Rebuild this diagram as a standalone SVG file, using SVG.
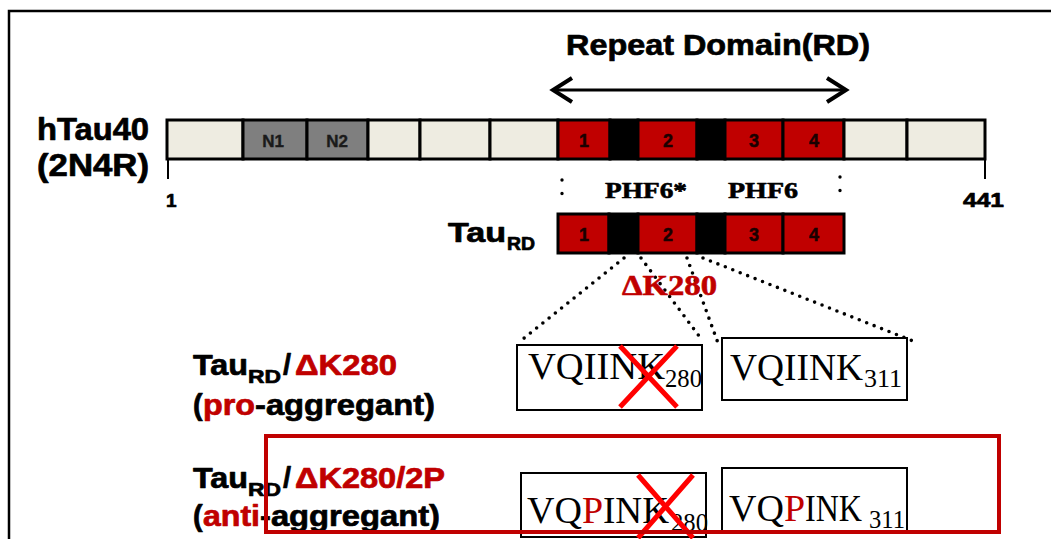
<svg xmlns="http://www.w3.org/2000/svg" width="1051" height="539" viewBox="0 0 1051 539">
<style>
.sans{font-family:"Liberation Sans",Arial,sans-serif;font-weight:bold;fill:#000;stroke:#000;stroke-width:0.7;stroke-linejoin:round}
.serif{font-family:"Liberation Serif","Times New Roman",serif}
.hv{stroke:#000;stroke-width:0.6;stroke-linejoin:round}
.cell{stroke:#000;stroke-width:3}
.beige{fill:#EEECE1}
.gray{fill:#7F7F7F}
.red{fill:#C00000}
.blk{fill:#000}
.num{font-family:"Liberation Sans",Arial,sans-serif;font-weight:bold;font-size:18px;fill:#1a0000;stroke:#1a0000;stroke-width:0.5;text-anchor:middle}
.ntxt{font-family:"Liberation Sans",Arial,sans-serif;font-weight:bold;font-size:17px;fill:#1a1a1a;stroke:#1a1a1a;stroke-width:0.4;text-anchor:middle}
.dot{fill:none;stroke:#000;stroke-width:3.6;stroke-linecap:round;stroke-dasharray:0 8}
.vdot{fill:none;stroke:#000;stroke-width:3.4;stroke-linecap:round;stroke-dasharray:0 13.5}
.pbox{fill:#fff;stroke:#000;stroke-width:2}
.cross{stroke:#FF0000;stroke-width:5;fill:none}
.dred{fill:#C00000;stroke:#C00000}
.rtxt{fill:#C00000}
</style>
<rect x="0" y="0" width="1051" height="539" fill="#fff"/>
<g id="frame"><path d="M9,545 V11 H1060" fill="none" stroke="#000" stroke-width="2.5"/></g>

<g id="title">
<text class="sans" x="566" y="55" font-size="30" textLength="304" lengthAdjust="spacingAndGlyphs">Repeat Domain(RD)</text>
<line x1="553" y1="90" x2="846" y2="90" stroke="#000" stroke-width="3"/>
<polyline points="572,78 553,90 572,102" fill="none" stroke="#000" stroke-width="4" stroke-linejoin="miter"/>
<polyline points="827,78 846,90 827,102" fill="none" stroke="#000" stroke-width="4" stroke-linejoin="miter"/>
</g>

<g id="hTau40-label">
<text class="sans" x="37" y="140" font-size="31" textLength="112" lengthAdjust="spacingAndGlyphs">hTau40</text>
<text class="sans" x="37" y="176" font-size="31" textLength="112" lengthAdjust="spacingAndGlyphs">(2N4R)</text>
</g>

<g id="hTau40-bar">
<rect class="cell beige" x="167" y="120" width="76" height="39"/>
<rect class="cell gray" x="243" y="120" width="64" height="39"/>
<rect class="cell gray" x="307" y="120" width="61" height="39"/>
<rect class="cell beige" x="368" y="120" width="52" height="39"/>
<rect class="cell beige" x="420" y="120" width="70" height="39"/>
<rect class="cell beige" x="490" y="120" width="68" height="39"/>
<rect class="cell red" x="558" y="120" width="52" height="39"/>
<rect class="cell blk" x="610" y="120" width="28" height="39"/>
<rect class="cell red" x="638" y="120" width="59" height="39"/>
<rect class="cell blk" x="697" y="120" width="28" height="39"/>
<rect class="cell red" x="725" y="120" width="58" height="39"/>
<rect class="cell red" x="783" y="120" width="61" height="39"/>
<rect class="cell beige" x="844" y="120" width="63" height="39"/>
<rect class="cell beige" x="907" y="120" width="78" height="39"/>
<text class="ntxt" x="273" y="147">N1</text>
<text class="ntxt" x="337" y="147">N2</text>
<text class="num" x="584" y="147">1</text>
<text class="num" x="668" y="147">2</text>
<text class="num" x="754" y="147">3</text>
<text class="num" x="814" y="147">4</text>
<line x1="168" y1="159" x2="168" y2="179" stroke="#000" stroke-width="2"/>
<line x1="985" y1="159" x2="985" y2="179" stroke="#000" stroke-width="2"/>
<text class="sans" x="166" y="207" font-size="19">1</text>
<text class="sans" x="963" y="207" font-size="21" textLength="41" lengthAdjust="spacingAndGlyphs">441</text>
</g>

<g id="phf6-labels">
<line class="vdot" x1="562" y1="180" x2="562" y2="207"/>
<line class="vdot" x1="840" y1="177" x2="840" y2="204"/>
<text class="serif hv" font-weight="bold" x="605" y="198" font-size="23" textLength="82" lengthAdjust="spacingAndGlyphs">PHF6*</text>
<text class="serif hv" font-weight="bold" x="728" y="198" font-size="23" textLength="70" lengthAdjust="spacingAndGlyphs">PHF6</text>
</g>

<g id="TauRD-label">
<text class="sans" x="448" y="242" font-size="27" textLength="58" lengthAdjust="spacingAndGlyphs">Tau</text>
<text class="sans" x="507" y="250" font-size="18" textLength="28" lengthAdjust="spacingAndGlyphs">RD</text>
</g>

<g id="TauRD-bar">
<rect class="cell red" x="558" y="214" width="51" height="39"/>
<rect class="cell blk" x="609" y="214" width="29" height="39"/>
<rect class="cell red" x="638" y="214" width="59" height="39"/>
<rect class="cell blk" x="697" y="214" width="28" height="39"/>
<rect class="cell red" x="725" y="214" width="58" height="39"/>
<rect class="cell red" x="783" y="214" width="61" height="39"/>
<text class="num" x="584" y="241">1</text>
<text class="num" x="668" y="241">2</text>
<text class="num" x="754" y="241">3</text>
<text class="num" x="814" y="241">4</text>
</g>

<g id="connectors">
<line class="dot" x1="624" y1="258" x2="518" y2="343"/>
<line class="dot" x1="641" y1="258" x2="702" y2="340"/>
<line class="dot" x1="687" y1="258" x2="718" y2="343"/>
<line class="dot" x1="703" y1="258" x2="918" y2="343"/>
</g>

<g id="dK280-label">
<text class="serif dred" font-weight="bold" stroke-width="0.6" x="622" y="295" font-size="30" textLength="95" lengthAdjust="spacingAndGlyphs">ΔK280</text>
</g>

<g id="label-pro">
<text class="sans" x="193" y="375" font-size="29" textLength="55" lengthAdjust="spacingAndGlyphs">Tau</text>
<text class="sans" x="248" y="383" font-size="19" textLength="33" lengthAdjust="spacingAndGlyphs">RD</text>
<text class="sans" x="283" y="375" font-size="29">/</text>
<text class="sans dred" x="295" y="375" font-size="29" textLength="102" lengthAdjust="spacingAndGlyphs">ΔK280</text>
<text class="sans" x="193" y="415" font-size="29">(</text>
<text class="sans dred" x="203" y="415" font-size="29" textLength="52" lengthAdjust="spacingAndGlyphs">pro</text>
<text class="sans" x="255" y="415" font-size="29" textLength="180" lengthAdjust="spacingAndGlyphs">-aggregant)</text>
</g>

<g id="box-VQIINK280">
<rect class="pbox" x="517" y="345" width="185" height="65"/>
<text class="serif" x="528" y="379" font-size="38" textLength="137" lengthAdjust="spacingAndGlyphs">VQIINK</text>
<text class="serif" x="665" y="387" font-size="25" textLength="37" lengthAdjust="spacingAndGlyphs">280</text>
<path class="cross" d="M620,346 L677,407 M677,346 L620,407"/>
</g>

<g id="box-VQIINK311">
<rect class="pbox" x="722" y="338" width="185" height="62"/>
<text class="serif" x="730" y="380" font-size="38" textLength="133" lengthAdjust="spacingAndGlyphs">VQIINK</text>
<text class="serif" x="864" y="387" font-size="25" textLength="38" lengthAdjust="spacingAndGlyphs">311</text>
</g>

<g id="label-anti">
<text class="sans" x="193" y="488" font-size="29" textLength="55" lengthAdjust="spacingAndGlyphs">Tau</text>
<text class="sans" x="248" y="496" font-size="19" textLength="33" lengthAdjust="spacingAndGlyphs">RD</text>
<text class="sans" x="283" y="488" font-size="29">/</text>
<text class="sans dred" x="295" y="488" font-size="29" textLength="150" lengthAdjust="spacingAndGlyphs">ΔK280/2P</text>
<text class="sans" x="193" y="526" font-size="29">(</text>
<text class="sans dred" x="203" y="526" font-size="29" textLength="57" lengthAdjust="spacingAndGlyphs">anti</text>
<text class="sans" x="260" y="526" font-size="29" textLength="180" lengthAdjust="spacingAndGlyphs">-aggregant)</text>
</g>

<g id="box-VQPINK280">
<rect class="pbox" x="521" y="473" width="185" height="64"/>
<text class="serif" x="527" y="523" font-size="38">VQ</text>
<text class="serif rtxt" x="582" y="523" font-size="38">P</text>
<text class="serif" x="603" y="523" font-size="38" textLength="66" lengthAdjust="spacingAndGlyphs">INK</text>
<text class="serif" x="671" y="531" font-size="25" textLength="37" lengthAdjust="spacingAndGlyphs">280</text>
<path class="cross" d="M638,475 L693,538 M693,475 L638,538"/>
</g>

<g id="box-VQPINK311">
<rect class="pbox" x="722" y="468" width="185" height="63"/>
<text class="serif" x="729" y="521" font-size="38">VQ</text>
<text class="serif rtxt" x="784" y="521" font-size="38">P</text>
<text class="serif" x="805" y="521" font-size="38" textLength="57" lengthAdjust="spacingAndGlyphs">INK</text>
<text class="serif" x="869" y="528" font-size="25" textLength="36" lengthAdjust="spacingAndGlyphs">311</text>
</g>

<g id="highlight">
<rect x="266" y="436" width="733" height="96" fill="none" stroke="#C00000" stroke-width="4"/>
</g>
</svg>
